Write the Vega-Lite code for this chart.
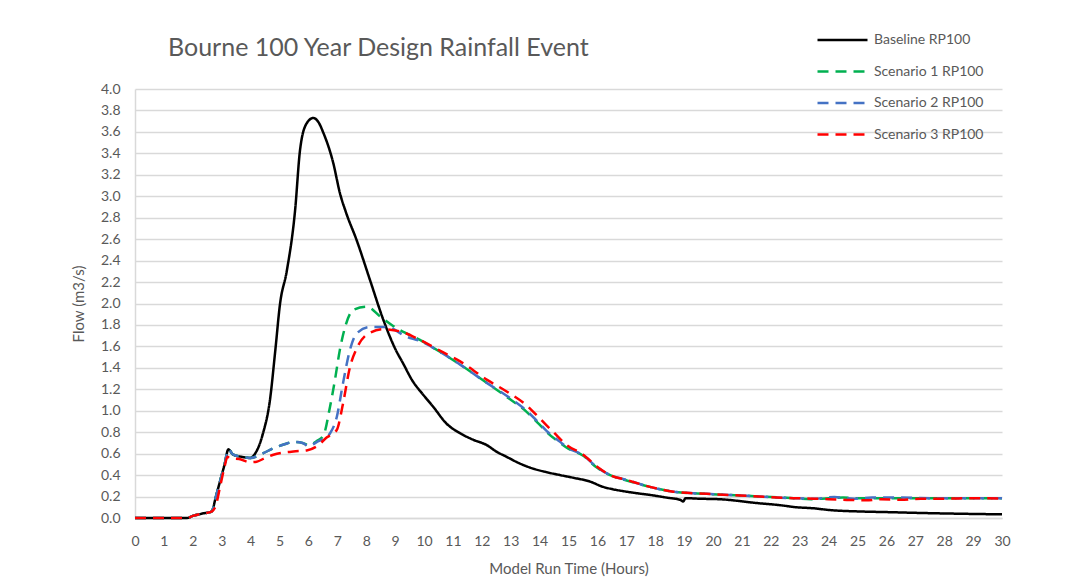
{
  "$schema": "https://vega.github.io/schema/vega-lite/v6.json",
  "autosize": {"type": "none"},
  "padding": {"left": 135, "top": 89, "right": 77, "bottom": 68},
  "width": 867,
  "height": 429,
  "background": "white",
  "config": {
    "font": "Lato",
    "view": {"stroke": null},
    "axis": {"labelFont": "Lato", "titleFont": "Lato", "labelColor": "#595959", "titleColor": "#595959", "labelFontSize": 14, "titleFontSize": 15, "titleFontWeight": "normal"}
  },
  "title": {"text": "Bourne 100 Year Design Rainfall Event", "anchor": "start", "frame": "group", "font": "Lato", "fontSize": 25, "fontWeight": "normal", "color": "#595959", "dx": 33, "offset": 0, "dy": 29},
  "data": {"values": [
    {"series": "Baseline RP100", "hour": 0, "flow": 0},
    {"series": "Baseline RP100", "hour": 1.8, "flow": 0},
    {"series": "Baseline RP100", "hour": 2.0, "flow": 0.02},
    {"series": "Baseline RP100", "hour": 2.3, "flow": 0.04},
    {"series": "Baseline RP100", "hour": 2.65, "flow": 0.06},
    {"series": "Baseline RP100", "hour": 2.8, "flow": 0.2},
    {"series": "Baseline RP100", "hour": 2.95, "flow": 0.35},
    {"series": "Baseline RP100", "hour": 3.1, "flow": 0.5},
    {"series": "Baseline RP100", "hour": 3.23, "flow": 0.64},
    {"series": "Baseline RP100", "hour": 3.4, "flow": 0.59},
    {"series": "Baseline RP100", "hour": 3.7, "flow": 0.57},
    {"series": "Baseline RP100", "hour": 3.98, "flow": 0.56},
    {"series": "Baseline RP100", "hour": 4.2, "flow": 0.62},
    {"series": "Baseline RP100", "hour": 4.43, "flow": 0.79},
    {"series": "Baseline RP100", "hour": 4.67, "flow": 1.1},
    {"series": "Baseline RP100", "hour": 4.85, "flow": 1.55},
    {"series": "Baseline RP100", "hour": 5.02, "flow": 2.0},
    {"series": "Baseline RP100", "hour": 5.25, "flow": 2.3},
    {"series": "Baseline RP100", "hour": 5.54, "flow": 2.87},
    {"series": "Baseline RP100", "hour": 5.71, "flow": 3.43},
    {"series": "Baseline RP100", "hour": 5.94, "flow": 3.68},
    {"series": "Baseline RP100", "hour": 6.17, "flow": 3.73},
    {"series": "Baseline RP100", "hour": 6.35, "flow": 3.69},
    {"series": "Baseline RP100", "hour": 6.52, "flow": 3.59},
    {"series": "Baseline RP100", "hour": 6.86, "flow": 3.31},
    {"series": "Baseline RP100", "hour": 7.09, "flow": 3.03},
    {"series": "Baseline RP100", "hour": 7.3, "flow": 2.85},
    {"series": "Baseline RP100", "hour": 7.67, "flow": 2.59},
    {"series": "Baseline RP100", "hour": 8.13, "flow": 2.22},
    {"series": "Baseline RP100", "hour": 8.59, "flow": 1.85},
    {"series": "Baseline RP100", "hour": 9.0, "flow": 1.58},
    {"series": "Baseline RP100", "hour": 9.28, "flow": 1.44},
    {"series": "Baseline RP100", "hour": 9.6, "flow": 1.28},
    {"series": "Baseline RP100", "hour": 9.97, "flow": 1.15},
    {"series": "Baseline RP100", "hour": 10.31, "flow": 1.04},
    {"series": "Baseline RP100", "hour": 10.78, "flow": 0.88},
    {"series": "Baseline RP100", "hour": 11.25, "flow": 0.79},
    {"series": "Baseline RP100", "hour": 11.7, "flow": 0.73},
    {"series": "Baseline RP100", "hour": 12.17, "flow": 0.68},
    {"series": "Baseline RP100", "hour": 12.5, "flow": 0.62},
    {"series": "Baseline RP100", "hour": 12.86, "flow": 0.57},
    {"series": "Baseline RP100", "hour": 13.3, "flow": 0.51},
    {"series": "Baseline RP100", "hour": 13.78, "flow": 0.46},
    {"series": "Baseline RP100", "hour": 14.2, "flow": 0.43},
    {"series": "Baseline RP100", "hour": 14.71, "flow": 0.4},
    {"series": "Baseline RP100", "hour": 15.17, "flow": 0.375},
    {"series": "Baseline RP100", "hour": 15.74, "flow": 0.34},
    {"series": "Baseline RP100", "hour": 16.2, "flow": 0.29},
    {"series": "Baseline RP100", "hour": 16.5, "flow": 0.27},
    {"series": "Baseline RP100", "hour": 16.9, "flow": 0.25},
    {"series": "Baseline RP100", "hour": 17.4, "flow": 0.23},
    {"series": "Baseline RP100", "hour": 17.82, "flow": 0.215},
    {"series": "Baseline RP100", "hour": 18.4, "flow": 0.19},
    {"series": "Baseline RP100", "hour": 18.86, "flow": 0.17},
    {"series": "Baseline RP100", "hour": 18.97, "flow": 0.155},
    {"series": "Baseline RP100", "hour": 19.05, "flow": 0.185},
    {"series": "Baseline RP100", "hour": 19.5, "flow": 0.18},
    {"series": "Baseline RP100", "hour": 20.24, "flow": 0.175},
    {"series": "Baseline RP100", "hour": 21.5, "flow": 0.14},
    {"series": "Baseline RP100", "hour": 22.3, "flow": 0.12},
    {"series": "Baseline RP100", "hour": 22.9, "flow": 0.1},
    {"series": "Baseline RP100", "hour": 23.5, "flow": 0.09},
    {"series": "Baseline RP100", "hour": 24, "flow": 0.075},
    {"series": "Baseline RP100", "hour": 25.2, "flow": 0.06},
    {"series": "Baseline RP100", "hour": 26, "flow": 0.055},
    {"series": "Baseline RP100", "hour": 27.5, "flow": 0.045},
    {"series": "Baseline RP100", "hour": 28.5, "flow": 0.04},
    {"series": "Baseline RP100", "hour": 30, "flow": 0.034},

    {"series": "Scenario 1 RP100", "hour": 0, "flow": 0},
    {"series": "Scenario 1 RP100", "hour": 1.8, "flow": 0},
    {"series": "Scenario 1 RP100", "hour": 2.0, "flow": 0.02},
    {"series": "Scenario 1 RP100", "hour": 2.3, "flow": 0.04},
    {"series": "Scenario 1 RP100", "hour": 2.65, "flow": 0.06},
    {"series": "Scenario 1 RP100", "hour": 2.8, "flow": 0.2},
    {"series": "Scenario 1 RP100", "hour": 2.95, "flow": 0.35},
    {"series": "Scenario 1 RP100", "hour": 3.1, "flow": 0.5},
    {"series": "Scenario 1 RP100", "hour": 3.23, "flow": 0.64},
    {"series": "Scenario 1 RP100", "hour": 3.4, "flow": 0.59},
    {"series": "Scenario 1 RP100", "hour": 3.7, "flow": 0.57},
    {"series": "Scenario 1 RP100", "hour": 4.0, "flow": 0.56},
    {"series": "Scenario 1 RP100", "hour": 4.4, "flow": 0.6},
    {"series": "Scenario 1 RP100", "hour": 4.79, "flow": 0.65},
    {"series": "Scenario 1 RP100", "hour": 5.2, "flow": 0.69},
    {"series": "Scenario 1 RP100", "hour": 5.48, "flow": 0.71},
    {"series": "Scenario 1 RP100", "hour": 5.8, "flow": 0.7},
    {"series": "Scenario 1 RP100", "hour": 6.0, "flow": 0.68},
    {"series": "Scenario 1 RP100", "hour": 6.3, "flow": 0.72},
    {"series": "Scenario 1 RP100", "hour": 6.52, "flow": 0.77},
    {"series": "Scenario 1 RP100", "hour": 6.75, "flow": 1.04},
    {"series": "Scenario 1 RP100", "hour": 6.92, "flow": 1.29},
    {"series": "Scenario 1 RP100", "hour": 7.09, "flow": 1.57},
    {"series": "Scenario 1 RP100", "hour": 7.27, "flow": 1.78},
    {"series": "Scenario 1 RP100", "hour": 7.55, "flow": 1.94},
    {"series": "Scenario 1 RP100", "hour": 8.02, "flow": 1.97},
    {"series": "Scenario 1 RP100", "hour": 8.48, "flow": 1.88},
    {"series": "Scenario 1 RP100", "hour": 9.05, "flow": 1.77},
    {"series": "Scenario 1 RP100", "hour": 9.86, "flow": 1.66},
    {"series": "Scenario 1 RP100", "hour": 10.55, "flow": 1.55},
    {"series": "Scenario 1 RP100", "hour": 11.25, "flow": 1.43},
    {"series": "Scenario 1 RP100", "hour": 12.17, "flow": 1.26},
    {"series": "Scenario 1 RP100", "hour": 12.86, "flow": 1.13},
    {"series": "Scenario 1 RP100", "hour": 13.55, "flow": 0.99},
    {"series": "Scenario 1 RP100", "hour": 14.0, "flow": 0.87},
    {"series": "Scenario 1 RP100", "hour": 14.25, "flow": 0.8},
    {"series": "Scenario 1 RP100", "hour": 14.71, "flow": 0.7},
    {"series": "Scenario 1 RP100", "hour": 14.94, "flow": 0.655},
    {"series": "Scenario 1 RP100", "hour": 15.51, "flow": 0.58},
    {"series": "Scenario 1 RP100", "hour": 15.98, "flow": 0.47},
    {"series": "Scenario 1 RP100", "hour": 16.44, "flow": 0.4},
    {"series": "Scenario 1 RP100", "hour": 17.01, "flow": 0.35},
    {"series": "Scenario 1 RP100", "hour": 17.82, "flow": 0.29},
    {"series": "Scenario 1 RP100", "hour": 18.63, "flow": 0.245},
    {"series": "Scenario 1 RP100", "hour": 19.78, "flow": 0.225},
    {"series": "Scenario 1 RP100", "hour": 20.93, "flow": 0.21},
    {"series": "Scenario 1 RP100", "hour": 22.78, "flow": 0.185},
    {"series": "Scenario 1 RP100", "hour": 23.4, "flow": 0.175},
    {"series": "Scenario 1 RP100", "hour": 24, "flow": 0.185},
    {"series": "Scenario 1 RP100", "hour": 24.5, "flow": 0.19},
    {"series": "Scenario 1 RP100", "hour": 25, "flow": 0.185},
    {"series": "Scenario 1 RP100", "hour": 26, "flow": 0.185},
    {"series": "Scenario 1 RP100", "hour": 27, "flow": 0.185},
    {"series": "Scenario 1 RP100", "hour": 28, "flow": 0.185},
    {"series": "Scenario 1 RP100", "hour": 29, "flow": 0.185},
    {"series": "Scenario 1 RP100", "hour": 30, "flow": 0.185},

    {"series": "Scenario 2 RP100", "hour": 0, "flow": 0},
    {"series": "Scenario 2 RP100", "hour": 1.8, "flow": 0},
    {"series": "Scenario 2 RP100", "hour": 2.0, "flow": 0.02},
    {"series": "Scenario 2 RP100", "hour": 2.3, "flow": 0.04},
    {"series": "Scenario 2 RP100", "hour": 2.65, "flow": 0.06},
    {"series": "Scenario 2 RP100", "hour": 2.8, "flow": 0.2},
    {"series": "Scenario 2 RP100", "hour": 2.95, "flow": 0.35},
    {"series": "Scenario 2 RP100", "hour": 3.1, "flow": 0.5},
    {"series": "Scenario 2 RP100", "hour": 3.23, "flow": 0.64},
    {"series": "Scenario 2 RP100", "hour": 3.4, "flow": 0.59},
    {"series": "Scenario 2 RP100", "hour": 3.7, "flow": 0.57},
    {"series": "Scenario 2 RP100", "hour": 4.0, "flow": 0.56},
    {"series": "Scenario 2 RP100", "hour": 4.4, "flow": 0.6},
    {"series": "Scenario 2 RP100", "hour": 4.79, "flow": 0.65},
    {"series": "Scenario 2 RP100", "hour": 5.2, "flow": 0.69},
    {"series": "Scenario 2 RP100", "hour": 5.48, "flow": 0.71},
    {"series": "Scenario 2 RP100", "hour": 5.8, "flow": 0.7},
    {"series": "Scenario 2 RP100", "hour": 6.0, "flow": 0.67},
    {"series": "Scenario 2 RP100", "hour": 6.3, "flow": 0.71},
    {"series": "Scenario 2 RP100", "hour": 6.52, "flow": 0.74},
    {"series": "Scenario 2 RP100", "hour": 6.75, "flow": 0.79},
    {"series": "Scenario 2 RP100", "hour": 6.98, "flow": 0.94},
    {"series": "Scenario 2 RP100", "hour": 7.2, "flow": 1.26},
    {"series": "Scenario 2 RP100", "hour": 7.44, "flow": 1.57},
    {"series": "Scenario 2 RP100", "hour": 7.67, "flow": 1.72},
    {"series": "Scenario 2 RP100", "hour": 8.13, "flow": 1.78},
    {"series": "Scenario 2 RP100", "hour": 8.71, "flow": 1.78},
    {"series": "Scenario 2 RP100", "hour": 9.4, "flow": 1.69},
    {"series": "Scenario 2 RP100", "hour": 9.86, "flow": 1.65},
    {"series": "Scenario 2 RP100", "hour": 10.55, "flow": 1.55},
    {"series": "Scenario 2 RP100", "hour": 11.25, "flow": 1.43},
    {"series": "Scenario 2 RP100", "hour": 12.17, "flow": 1.26},
    {"series": "Scenario 2 RP100", "hour": 12.86, "flow": 1.14},
    {"series": "Scenario 2 RP100", "hour": 13.55, "flow": 1.0},
    {"series": "Scenario 2 RP100", "hour": 14.0, "flow": 0.88},
    {"series": "Scenario 2 RP100", "hour": 14.25, "flow": 0.81},
    {"series": "Scenario 2 RP100", "hour": 14.71, "flow": 0.71},
    {"series": "Scenario 2 RP100", "hour": 14.94, "flow": 0.66},
    {"series": "Scenario 2 RP100", "hour": 15.51, "flow": 0.585},
    {"series": "Scenario 2 RP100", "hour": 15.98, "flow": 0.475},
    {"series": "Scenario 2 RP100", "hour": 16.44, "flow": 0.4},
    {"series": "Scenario 2 RP100", "hour": 17.01, "flow": 0.355},
    {"series": "Scenario 2 RP100", "hour": 17.82, "flow": 0.29},
    {"series": "Scenario 2 RP100", "hour": 18.63, "flow": 0.245},
    {"series": "Scenario 2 RP100", "hour": 19.78, "flow": 0.225},
    {"series": "Scenario 2 RP100", "hour": 20.93, "flow": 0.21},
    {"series": "Scenario 2 RP100", "hour": 22.78, "flow": 0.185},
    {"series": "Scenario 2 RP100", "hour": 23.5, "flow": 0.18},
    {"series": "Scenario 2 RP100", "hour": 24.2, "flow": 0.195},
    {"series": "Scenario 2 RP100", "hour": 24.9, "flow": 0.18},
    {"series": "Scenario 2 RP100", "hour": 25.5, "flow": 0.19},
    {"series": "Scenario 2 RP100", "hour": 26.5, "flow": 0.19},
    {"series": "Scenario 2 RP100", "hour": 27.5, "flow": 0.185},
    {"series": "Scenario 2 RP100", "hour": 28.5, "flow": 0.185},
    {"series": "Scenario 2 RP100", "hour": 30, "flow": 0.185},

    {"series": "Scenario 3 RP100", "hour": 0, "flow": 0},
    {"series": "Scenario 3 RP100", "hour": 1.8, "flow": 0},
    {"series": "Scenario 3 RP100", "hour": 2.0, "flow": 0.02},
    {"series": "Scenario 3 RP100", "hour": 2.3, "flow": 0.04},
    {"series": "Scenario 3 RP100", "hour": 2.65, "flow": 0.06},
    {"series": "Scenario 3 RP100", "hour": 2.8, "flow": 0.12},
    {"series": "Scenario 3 RP100", "hour": 2.95, "flow": 0.3},
    {"series": "Scenario 3 RP100", "hour": 3.1, "flow": 0.48},
    {"series": "Scenario 3 RP100", "hour": 3.2, "flow": 0.57},
    {"series": "Scenario 3 RP100", "hour": 3.29, "flow": 0.556},
    {"series": "Scenario 3 RP100", "hour": 3.6, "flow": 0.55},
    {"series": "Scenario 3 RP100", "hour": 3.98, "flow": 0.52},
    {"series": "Scenario 3 RP100", "hour": 4.21, "flow": 0.525},
    {"series": "Scenario 3 RP100", "hour": 4.5, "flow": 0.56},
    {"series": "Scenario 3 RP100", "hour": 4.79, "flow": 0.59},
    {"series": "Scenario 3 RP100", "hour": 5.48, "flow": 0.62},
    {"series": "Scenario 3 RP100", "hour": 5.94, "flow": 0.63},
    {"series": "Scenario 3 RP100", "hour": 6.3, "flow": 0.67},
    {"series": "Scenario 3 RP100", "hour": 6.63, "flow": 0.75},
    {"series": "Scenario 3 RP100", "hour": 6.98, "flow": 0.82},
    {"series": "Scenario 3 RP100", "hour": 7.2, "flow": 1.07},
    {"series": "Scenario 3 RP100", "hour": 7.44, "flow": 1.41},
    {"series": "Scenario 3 RP100", "hour": 7.67, "flow": 1.58},
    {"series": "Scenario 3 RP100", "hour": 8.02, "flow": 1.71},
    {"series": "Scenario 3 RP100", "hour": 8.59, "flow": 1.76},
    {"series": "Scenario 3 RP100", "hour": 9.17, "flow": 1.74},
    {"series": "Scenario 3 RP100", "hour": 9.86, "flow": 1.66},
    {"series": "Scenario 3 RP100", "hour": 10.55, "flow": 1.56},
    {"series": "Scenario 3 RP100", "hour": 11.25, "flow": 1.46},
    {"series": "Scenario 3 RP100", "hour": 12.17, "flow": 1.29},
    {"series": "Scenario 3 RP100", "hour": 12.86, "flow": 1.18},
    {"series": "Scenario 3 RP100", "hour": 13.55, "flow": 1.05},
    {"series": "Scenario 3 RP100", "hour": 14.0, "flow": 0.93},
    {"series": "Scenario 3 RP100", "hour": 14.48, "flow": 0.8},
    {"series": "Scenario 3 RP100", "hour": 14.94, "flow": 0.68},
    {"series": "Scenario 3 RP100", "hour": 15.51, "flow": 0.59},
    {"series": "Scenario 3 RP100", "hour": 15.98, "flow": 0.48},
    {"series": "Scenario 3 RP100", "hour": 16.44, "flow": 0.4},
    {"series": "Scenario 3 RP100", "hour": 17.01, "flow": 0.355},
    {"series": "Scenario 3 RP100", "hour": 17.82, "flow": 0.29},
    {"series": "Scenario 3 RP100", "hour": 18.63, "flow": 0.245},
    {"series": "Scenario 3 RP100", "hour": 19.78, "flow": 0.225},
    {"series": "Scenario 3 RP100", "hour": 20.93, "flow": 0.21},
    {"series": "Scenario 3 RP100", "hour": 22.78, "flow": 0.185},
    {"series": "Scenario 3 RP100", "hour": 23.5, "flow": 0.18},
    {"series": "Scenario 3 RP100", "hour": 24.5, "flow": 0.17},
    {"series": "Scenario 3 RP100", "hour": 25.3, "flow": 0.165},
    {"series": "Scenario 3 RP100", "hour": 25.8, "flow": 0.175},
    {"series": "Scenario 3 RP100", "hour": 26.5, "flow": 0.17},
    {"series": "Scenario 3 RP100", "hour": 27.2, "flow": 0.18},
    {"series": "Scenario 3 RP100", "hour": 28, "flow": 0.18},
    {"series": "Scenario 3 RP100", "hour": 29, "flow": 0.185},
    {"series": "Scenario 3 RP100", "hour": 30, "flow": 0.18}
  ]},
  "mark": {"type": "line", "strokeWidth": 2.5, "interpolate": "monotone"},
  "encoding": {
    "x": {"field": "hour", "type": "quantitative",
      "scale": {"domain": [0, 30], "nice": false},
      "axis": {"title": "Model Run Time (Hours)", "values": [0,1,2,3,4,5,6,7,8,9,10,11,12,13,14,15,16,17,18,19,20,21,22,23,24,25,26,27,28,29,30], "format": "d", "grid": false, "ticks": false, "domainColor": "#d9d9d9", "domainWidth": 1.5, "labelPadding": 16, "titlePadding": 13, "labelFlush": false}},
    "y": {"field": "flow", "type": "quantitative",
      "scale": {"domain": [0, 4], "nice": false},
      "axis": {"title": "Flow (m3/s)", "values": [0,0.2,0.4,0.6,0.8,1,1.2,1.4,1.6,1.8,2,2.2,2.4,2.6,2.8,3,3.2,3.4,3.6,3.8,4], "format": ".1f", "grid": true, "gridColor": "#d9d9d9", "gridWidth": 1.5, "ticks": false, "domainColor": "#d9d9d9", "domainWidth": 1.5, "labelPadding": 15, "titlePadding": 14}},
    "color": {"field": "series", "type": "nominal",
      "scale": {"domain": ["Baseline RP100", "Scenario 1 RP100", "Scenario 2 RP100", "Scenario 3 RP100"], "range": ["#000000", "#00B050", "#4472C4", "#FF0000"]},
      "legend": {"title": null, "orient": "none", "legendX": 681, "legendY": -57, "symbolType": "stroke", "symbolSize": 2500, "symbolStrokeWidth": 2.5, "labelFont": "Lato", "labelFontSize": 14, "labelColor": "#595959", "labelOffset": 5, "clipHeight": 16, "rowPadding": 15.5}},
    "strokeDash": {"field": "series", "type": "nominal",
      "scale": {"domain": ["Baseline RP100", "Scenario 1 RP100", "Scenario 2 RP100", "Scenario 3 RP100"], "range": [[1, 0], [11, 7], [11, 7], [11, 7]]},
      "legend": {"title": null, "orient": "none", "legendX": 681, "legendY": -57, "symbolType": "stroke", "symbolSize": 2500, "symbolStrokeWidth": 2.5, "labelFont": "Lato", "labelFontSize": 14, "labelColor": "#595959", "labelOffset": 5, "clipHeight": 16, "rowPadding": 15.5}}
  }
}
